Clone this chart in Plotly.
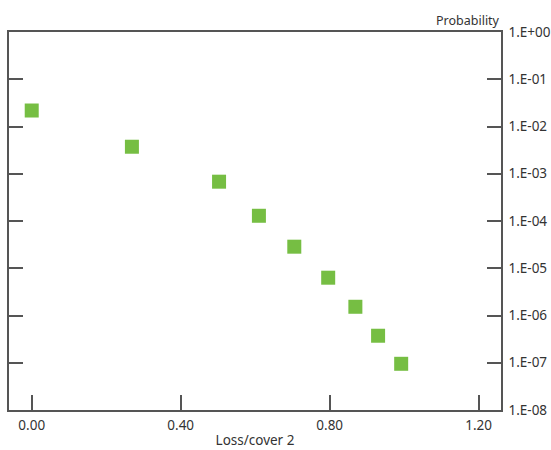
import plotly.graph_objects as go

loss_cover = [0.00, 0.269, 0.503, 0.610, 0.705, 0.796, 0.869, 0.930, 0.992]
probability = [2.18e-2, 3.73e-3, 6.79e-4, 1.29e-4, 2.86e-5, 6.31e-6, 1.53e-6, 3.73e-7, 9.5e-8]

y_tickvals = [1e0, 1e-1, 1e-2, 1e-3, 1e-4, 1e-5, 1e-6, 1e-7, 1e-8]
y_ticktext = ["1.E+00", "1.E-01", "1.E-02", "1.E-03", "1.E-04", "1.E-05", "1.E-06", "1.E-07", "1.E-08"]
x_tickvals = [0.0, 0.4, 0.8, 1.2]
x_ticktext = ["0.00", "0.40", "0.80", "1.20"]

font_family = "Noto Sans"
text_color = "#333333"
axis_color = "#555555"

fig = go.Figure()
fig.add_trace(go.Scatter(
    x=loss_cover, y=probability, mode="markers",
    marker=dict(symbol="square", size=14, color="#76be43", line=dict(width=0)),
    showlegend=False, hoverinfo="x+y",
))

fig.update_layout(
    width=551, height=450,
    margin=dict(l=9, r=50, t=32, b=40),
    paper_bgcolor="white", plot_bgcolor="white",
    font=dict(family=font_family, size=13.5, color=text_color),
    xaxis=dict(
        range=[-0.061, 1.260], tickvals=x_tickvals, ticktext=x_ticktext,
        showgrid=False, zeroline=False, automargin=False,
        showline=True, linecolor=axis_color, linewidth=1.5, mirror=True,
        ticks="inside", ticklen=15, tickwidth=1.5, tickcolor=axis_color,
        title=dict(text="Loss/cover 2", font=dict(size=13.5, color=text_color), standoff=3),
        tickfont=dict(size=13.5, color=text_color),
        ticklabelstandoff=2,
    ),
    yaxis=dict(
        type="log", range=[-8, 0], side="right", automargin=False,
        tickvals=y_tickvals, ticktext=y_ticktext,
        showgrid=False, zeroline=False,
        showline=True, linecolor=axis_color, linewidth=1.5, mirror="ticks",
        ticks="inside", ticklen=14, tickwidth=1.5, tickcolor=axis_color,
        tickfont=dict(size=13.5, color=text_color),
        ticklabelstandoff=3,
    ),
    annotations=[dict(
        text="Probability", xref="paper", yref="paper", x=1.0, y=1.0,
        xanchor="right", yanchor="bottom", showarrow=False, yshift=1, xshift=1,
        font=dict(size=12.5, color=text_color),
    )],
)

fig.write_html("out.html")
